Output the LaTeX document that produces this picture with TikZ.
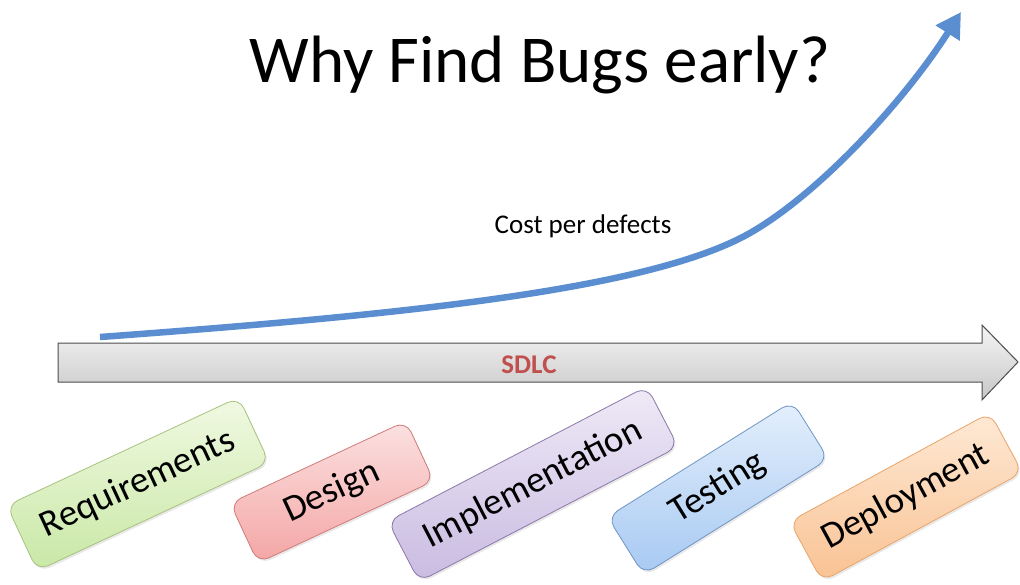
\documentclass[tikz,border=0pt]{standalone}
\usepackage{fontspec}
\setmainfont{Carlito}
\usetikzlibrary{arrows.meta,shadows}
\definecolor{curveblue}{HTML}{5A8ED0}
\definecolor{sdlcred}{HTML}{C0504D}
\definecolor{reqtop}{HTML}{F0F9E2}\definecolor{reqbot}{HTML}{C9E8A6}\definecolor{reqdraw}{HTML}{A9C27E}
\definecolor{destop}{HTML}{FCE1E1}\definecolor{desbot}{HTML}{F3A6A5}\definecolor{desdraw}{HTML}{D07B7A}
\definecolor{imptop}{HTML}{EFEAF7}\definecolor{impbot}{HTML}{C9BBE1}\definecolor{impdraw}{HTML}{8A78A8}
\definecolor{testop}{HTML}{E4EFFC}\definecolor{tesbot}{HTML}{A7C9F2}\definecolor{tesdraw}{HTML}{6E94C4}
\definecolor{deptop}{HTML}{FEE9D5}\definecolor{depbot}{HTML}{F9C293}\definecolor{depdraw}{HTML}{E9A468}
\tikzset{
  phase/.style={draw, line width=0.8pt, rounded corners=12pt,
    inner sep=0pt, font=\fontsize{37}{42}\selectfont, text=black,
    drop shadow={opacity=0.18, shadow xshift=1.5pt, shadow yshift=-2pt}},
}
\begin{document}
\begin{tikzpicture}[x=1pt,y=-1pt]
\useasboundingbox (0,0) rectangle (1020,584);
% title
\node[font=\fontsize{67}{72}\selectfont, anchor=base] (title) at (540,82) {Why Find Bugs early?};
% cost curve
\coordinate (cstart) at (100,337);
\coordinate (cmid) at (750,233);
\coordinate (cend) at (961,12);
\draw[curveblue, line width=6.5pt, -{Triangle[length=25pt,width=27pt]}]
  (cstart) .. controls (400,315) and (650,290) .. (cmid)
  .. controls (820,193) and (905,100) .. (cend);
\node[font=\fontsize{27}{31}\selectfont] (cost) at (583,226) {Cost per defects};
% SDLC arrow
\shade[draw=black!70, line width=1pt, top color=black!4, bottom color=black!22]
  (58,343) -- (982,343) -- (982,325) -- (1018,362) -- (982,400) -- (982,382) -- (58,382) -- cycle;
\node[font=\bfseries\fontsize{27}{30}\selectfont, text=sdlcred] (sdlc) at (529,365) {SDLC};
% phases
\node[phase, draw=reqdraw, top color=reqtop, bottom color=reqbot,
  minimum width=256pt, minimum height=72pt, rotate=25] (req) at (138,484) {Requirements};
\node[phase, draw=desdraw, top color=destop, bottom color=desbot,
  minimum width=194pt, minimum height=66pt, rotate=25] (des) at (332,492) {Design};
\node[phase, draw=impdraw, top color=imptop, bottom color=impbot,
  minimum width=292pt, minimum height=68pt, rotate=27.5] (imp) at (533,484) {Implementation};
\node[phase, draw=tesdraw, top color=testop, bottom color=tesbot,
  minimum width=218pt, minimum height=68pt, rotate=32] (tes) at (718,488) {Testing};
\node[phase, draw=depdraw, top color=deptop, bottom color=depbot,
  minimum width=228pt, minimum height=68pt, rotate=28.5] (dep) at (906,497) {Deployment};
\end{tikzpicture}
\end{document}
